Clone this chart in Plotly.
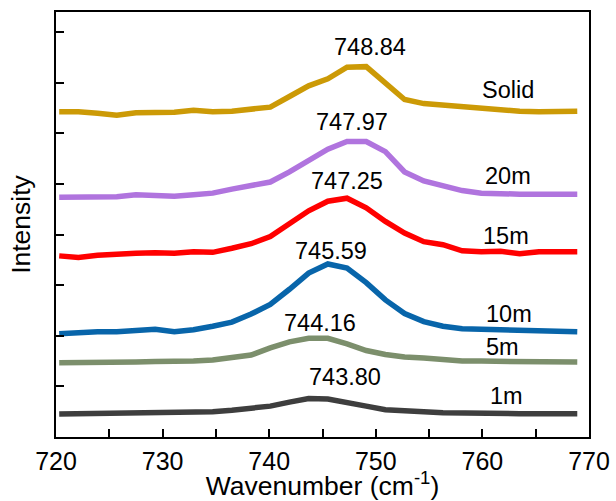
import plotly.graph_objects as go

# Raman shift grid shared by all spectra (cm^-1)
wavenumber = [720.3, 722.1, 723.9, 725.7, 727.5, 729.3, 731.1, 732.9, 734.7, 736.5,
              738.3, 740.1, 741.9, 743.7, 745.5, 747.3, 749.1, 750.9, 752.7, 754.5,
              756.3, 758.1, 759.9, 761.7, 763.5, 765.3, 767.1, 768.9]

# Offset intensities for each sample
solid = [6.43, 6.43, 6.40, 6.36, 6.41, 6.41, 6.42, 6.46, 6.43, 6.44,
         6.47, 6.52, 6.73, 6.94, 7.08, 7.31, 7.32, 7.00, 6.67, 6.59,
         6.56, 6.52, 6.49, 6.45, 6.44, 6.43, 6.44, 6.44]
m20 = [4.74, 4.74, 4.75, 4.75, 4.79, 4.77, 4.76, 4.79, 4.82, 4.90,
       4.97, 5.04, 5.24, 5.47, 5.69, 5.84, 5.84, 5.64, 5.24, 5.06,
       4.96, 4.87, 4.82, 4.80, 4.80, 4.80, 4.80, 4.80]
m15 = [3.58, 3.55, 3.59, 3.62, 3.63, 3.64, 3.63, 3.66, 3.65, 3.73,
       3.82, 3.96, 4.20, 4.47, 4.66, 4.72, 4.53, 4.26, 4.03, 3.86,
       3.80, 3.68, 3.66, 3.67, 3.62, 3.66, 3.66, 3.66]
m10 = [2.04, 2.07, 2.08, 2.08, 2.10, 2.13, 2.08, 2.12, 2.19, 2.27,
       2.43, 2.62, 2.92, 3.24, 3.42, 3.34, 3.05, 2.71, 2.44, 2.28,
       2.19, 2.14, 2.13, 2.12, 2.09, 2.08, 2.08, 2.08]
m5 = [1.47, 1.47, 1.46, 1.47, 1.48, 1.49, 1.49, 1.50, 1.52, 1.56,
      1.62, 1.76, 1.88, 1.95, 1.95, 1.84, 1.71, 1.63, 1.58, 1.56,
      1.52, 1.50, 1.50, 1.50, 1.49, 1.49, 1.48, 1.48]
m1 = [0.455, 0.46, 0.46, 0.47, 0.47, 0.475, 0.48, 0.51, 0.50, 0.53,
      0.56, 0.61, 0.69, 0.76, 0.75, 0.69, 0.61, 0.54, 0.51, 0.50,
      0.48, 0.47, 0.46, 0.455, 0.46, 0.46, 0.46, 0.46]

series_names = ["Solid", "20m", "15m", "10m", "5m", "1m"]
series_values = [solid, m20, m15, m10, m5, m1]
series_colors = ["#CC9A06", "#B074DE", "#FF0000", "#0865AA", "#7C8F6C", "#3E3E3E"]

# Peak positions (cm^-1) with label placement
peak_labels = ["748.84", "747.97", "747.25", "745.59", "744.16", "743.80"]
peak_label_x = [749.5, 747.8, 747.3, 745.8, 744.8, 747.1]
peak_label_y = [7.70, 6.23, 5.05, 3.67, 2.26, 1.19]

# Sample name labels on the right
name_label_x = [762.4, 762.4, 762.2, 762.5, 761.9, 762.3]
name_label_y = [6.86, 5.16, 3.98, 2.43, 1.78, 0.81]

x_tick_vals = [720, 730, 740, 750, 760, 770]
x_tick_text = ["720", "730", "740", "750", "760", "770"]
y_tick_vals = [1, 2, 3, 4, 5, 6, 7, 8]

FONT = "Liberation Sans, Arial, sans-serif"

fig = go.Figure()
for name, vals, color in zip(series_names, series_values, series_colors):
    fig.add_trace(go.Scatter(
        x=wavenumber, y=vals, mode="lines", name=name,
        line=dict(color=color, width=5.5), showlegend=False,
    ))

annotations = []
for txt, x, y in zip(peak_labels, peak_label_x, peak_label_y):
    annotations.append(dict(x=x, y=y, xref="x", yref="y", text=txt, showarrow=False,
                            font=dict(family=FONT, size=23.5, color="black")))
for txt, x, y in zip(series_names, name_label_x, name_label_y):
    annotations.append(dict(x=x, y=y, xref="x", yref="y", text=txt, showarrow=False,
                            font=dict(family=FONT, size=23.5, color="black")))

fig.update_layout(
    width=616, height=501,
    margin=dict(l=56, r=27, t=12, b=64),
    paper_bgcolor="white", plot_bgcolor="white",
    font=dict(family=FONT, color="black"),
    annotations=annotations,
)
fig.update_xaxes(
    automargin=False,
    range=[720, 770], tickmode="array", tickvals=x_tick_vals, ticktext=x_tick_text,
    ticks="inside", ticklen=8, tickwidth=1.5, tickcolor="black",
    minor=dict(dtick=5, tick0=720, ticks="inside", ticklen=8, tickwidth=1.5,
               tickcolor="black", showgrid=False),
    showline=True, linecolor="black", linewidth=1.5, mirror=True,
    showgrid=False, zeroline=False,
    tickfont=dict(family=FONT, size=25, color="black"), ticklabelstandoff=1,
    title=dict(text="Wavenumber (cm<sup>-1</sup>)", font=dict(family=FONT, size=26.5), standoff=0),
)
fig.update_yaxes(
    automargin=False,
    range=[0, 8.4], tickmode="array", tickvals=y_tick_vals, showticklabels=False,
    ticks="inside", ticklen=8, tickwidth=1.5, tickcolor="black",
    showline=True, linecolor="black", linewidth=1.5, mirror=True,
    showgrid=False, zeroline=False,
    title=dict(text="Intensity", font=dict(family=FONT, size=26.5), standoff=16),
)

fig.write_html("out.html")
